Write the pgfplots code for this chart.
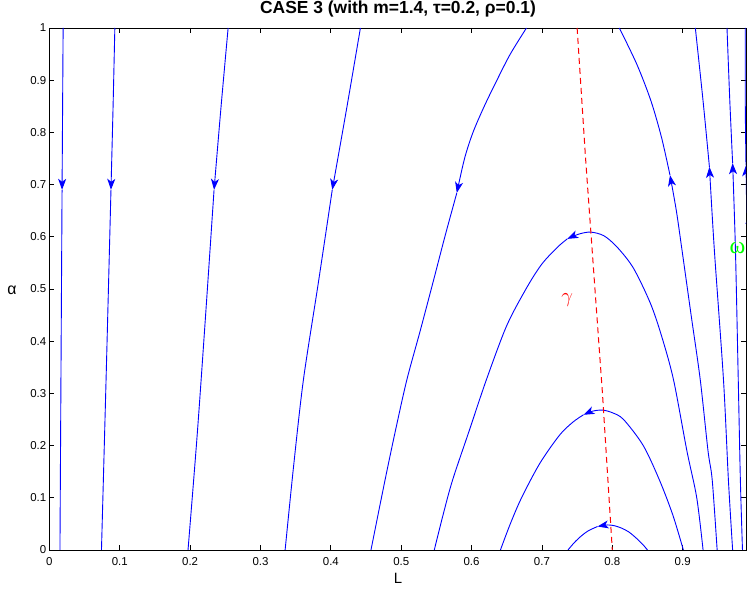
\documentclass[border=0pt]{standalone}
\usepackage{fontspec}
\setmainfont{Liberation Sans}
\newfontfamily\serifgreek{Liberation Serif}
\usepackage{pgfplots}
\pgfplotsset{compat=1.18}
\usetikzlibrary{arrows.meta}

\tikzset{
  flow/.style={blue, line width=0.9bp, smooth, mark=none},
  flowarr/.style={flow, -{Stealth[length=11bp,width=8bp,inset=3bp]}},
}

\begin{document}
\begin{tikzpicture}
\path[use as bounding box] (0,0) rectangle (749bp,592bp);
\begin{axis}[
  at={(49.4bp,42bp)}, anchor=south west,
  width=696.6bp, height=522bp, scale only axis,
  xmin=0, xmax=0.99, ymin=0, ymax=1,
  xtick={0,0.1,0.2,0.3,0.4,0.5,0.6,0.7,0.8,0.9},
  ytick={0,0.1,0.2,0.3,0.4,0.5,0.6,0.7,0.8,0.9,1},
  tick align=inside, major tick length=5bp,
  axis line style={line width=0.9bp},
  every tick/.style={black, line width=0.8bp},
  /pgf/number format/assume math mode=true,
  /pgf/number format/fixed,
  ticklabel style={font=\fontsize{11.5}{12}\selectfont},
  xticklabel style={anchor=north, inner sep=0pt, yshift=-7bp},
  yticklabel style={anchor=east, inner sep=0pt, xshift=-3bp},
  clip=true,
]
% left family, flow downwards
\addplot[flowarr] coordinates {(0.0195,1) (0.018,0.69)};
\addplot[flow] coordinates {(0.018,0.69) (0.0165,0.35) (0.015,0)};
\addplot[flowarr] coordinates {(0.093,1) (0.0905,0.85) (0.0875,0.69)};
\addplot[flow] coordinates {(0.0875,0.69) (0.081,0.35) (0.074,0)};
\addplot[flowarr] coordinates {(0.254,1) (0.244,0.85) (0.234,0.69)};
\addplot[flow] coordinates {(0.234,0.69) (0.222,0.45) (0.210,0.22) (0.197,0)};
\addplot[flowarr] coordinates {(0.442,1) (0.423,0.85) (0.402,0.69)};
\addplot[flow] coordinates {(0.402,0.69) (0.382,0.51) (0.361,0.326) (0.347,0.16) (0.335,0)};
\addplot[flowarr] coordinates {(0.678,1) (0.655,0.95) (0.636,0.90) (0.618,0.85) (0.602,0.80) (0.590,0.75) (0.579,0.684)};
\addplot[flow] coordinates {(0.579,0.684) (0.562,0.60) (0.546,0.517) (0.527,0.42) (0.508,0.326) (0.492,0.23) (0.477,0.134) (0.457,0)};
% arches, flow right to left over the top
\addplot[flowarr] coordinates {(0.929,0) (0.920,0.1) (0.906,0.19) (0.887,0.326) (0.870,0.41) (0.854,0.473) (0.830,0.54) (0.807,0.58) (0.788,0.602) (0.769,0.609) (0.752,0.605) (0.736,0.596)};
\addplot[flow] coordinates {(0.736,0.596) (0.722,0.580) (0.700,0.548) (0.679,0.504) (0.650,0.43) (0.621,0.326) (0.597,0.23) (0.573,0.134) (0.560,0.07) (0.547,0)};
\addplot[flowarr] coordinates {(0.901,0) (0.886,0.067) (0.867,0.134) (0.844,0.2) (0.816,0.25) (0.800,0.263) (0.786,0.268) (0.772,0.266) (0.759,0.259)};
\addplot[flow] coordinates {(0.759,0.259) (0.744,0.245) (0.725,0.22) (0.697,0.166) (0.671,0.1) (0.655,0.05) (0.641,0)};
\addplot[flowarr] coordinates {(0.850,0) (0.843,0.011) (0.833,0.024) (0.823,0.035) (0.813,0.042) (0.803,0.0465) (0.793,0.048) (0.779,0.045)};
\addplot[flow] coordinates {(0.779,0.045) (0.766,0.0369) (0.756,0.027) (0.746,0.0142) (0.737,0)};
% right family, flow upwards
\addplot[flowarr] coordinates {(0.949,0) (0.942,0.134) (0.936,0.19) (0.925,0.326) (0.912,0.45) (0.899,0.575) (0.891,0.65) (0.882,0.718)};
\addplot[flow] coordinates {(0.882,0.718) (0.870,0.79) (0.855,0.86) (0.835,0.93) (0.810,1)};
\addplot[flowarr] coordinates {(0.971,0) (0.965,0.134) (0.958,0.326) (0.945,0.575) (0.938,0.734)};
\addplot[flow] coordinates {(0.938,0.734) (0.929,0.86) (0.918,1)};
\addplot[flowarr] coordinates {(0.985,0) (0.982,0.134) (0.979,0.326) (0.975,0.575) (0.971,0.741)};
\addplot[flow] coordinates {(0.971,0.741) (0.967,0.86) (0.963,1)};
\addplot[flowarr] coordinates {(0.994,0) (0.992,0.517) (0.990,0.737)};
\addplot[flow] coordinates {(0.990,0.737) (0.989,0.85) (0.989,1)};
\addplot[flowarr] coordinates {(0.997,0) (0.9955,0.5) (0.9948,0.646)};
\addplot[flow] coordinates {(0.9948,0.646) (0.994,1)};
% gamma curve
\addplot[red, dash pattern=on 6bp off 4bp, line width=1bp, mark=none] coordinates {(0.750,1) (0.762,0.75) (0.770,0.6) (0.778,0.45) (0.786,0.3) (0.793,0.15) (0.800,0)};
\node[red, font=\fontsize{21}{21}\selectfont] at (axis cs:0.736,0.479) {$\gamma$};
\node[green, font=\serifgreek\fontsize{24}{24}\selectfont] at (axis cs:0.978,0.578) {ω};
\end{axis}
\node[font=\bfseries\fontsize{17.5}{18}\selectfont, anchor=base] at (398bp,578bp) {CASE 3 (with m=1.4, τ=0.2, ρ=0.1)};
\node[font=\fontsize{15}{15}\selectfont, anchor=base] at (398bp,9bp) {L};
\node[font=\fontsize{16}{16}\selectfont] at (12bp,302bp) {α};
\end{tikzpicture}
\end{document}
